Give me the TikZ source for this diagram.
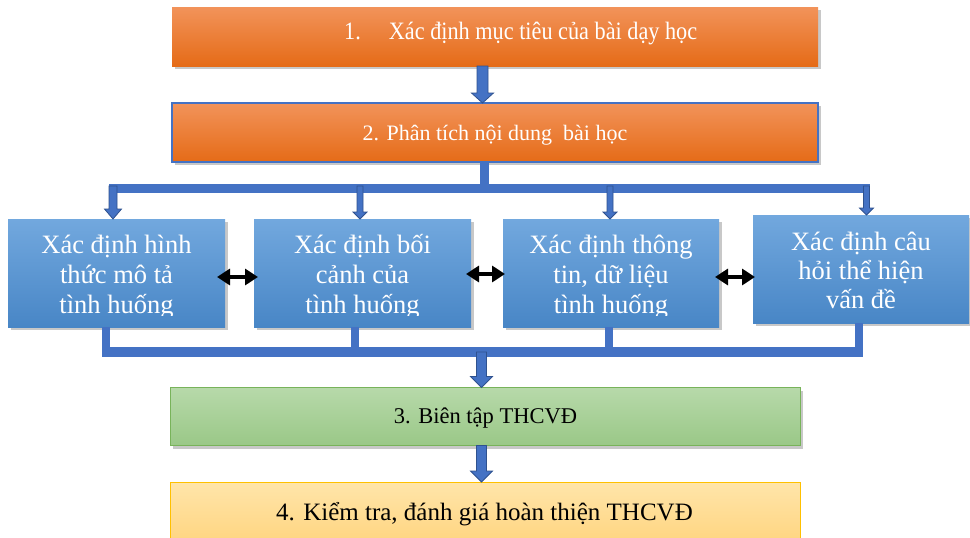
\documentclass[tikz,border=0pt]{standalone}
\usepackage{fontspec}
\setmainfont{Liberation Serif}
\newfontfamily\condfont[FakeStretch=0.89]{Liberation Serif}
\usetikzlibrary{arrows.meta,shadows,calc}
\definecolor{orT}{HTML}{F2935A}
\definecolor{orB}{HTML}{E56B17}
\definecolor{blT}{HTML}{72A8DE}
\definecolor{blB}{HTML}{4886C6}
\definecolor{grT}{HTML}{B7D9AA}
\definecolor{grB}{HTML}{9AC887}
\definecolor{grE}{HTML}{78B35A}
\definecolor{ylT}{HTML}{FFE5AA}
\definecolor{ylB}{HTML}{FFD47E}
\definecolor{ylE}{HTML}{FFC000}
\definecolor{conn}{HTML}{4472C4}
\definecolor{connD}{HTML}{2F528F}
\newcommand\blockarr[6]{%
  \path[#6] let \p1=#1, \p2=#2 in
    (\x1-#3,\y1) -- (\x1-#3,\y2+#5) -- (\x1-#4,\y2+#5) -- (\x1,\y2)
    -- (\x1+#4,\y2+#5) -- (\x1+#3,\y2+#5) -- (\x1+#3,\y1) -- cycle;}
\begin{document}
\begin{tikzpicture}[x=1pt,y=-1pt,
  shd/.style={drop shadow={shadow xshift=3pt,shadow yshift=-3pt,opacity=0.3,fill=black!70}},
  boxbase/.style={rectangle,inner sep=0pt,outer sep=0pt},
  obox/.style={boxbase,top color=orT,bottom color=orB,shd,minimum width=646pt,minimum height=59pt},
  bbox/.style={boxbase,top color=blT,bottom color=blB,shd,minimum width=217pt,minimum height=108pt},
  gbox/.style={boxbase,top color=grT,bottom color=grB,draw=grE,line width=1pt,shd,minimum width=630pt,minimum height=58pt},
  ybox/.style={boxbase,top color=ylT,bottom color=ylB,draw=ylE,line width=1pt,minimum width=630pt,minimum height=64pt},
  bar/.style={draw=conn,line width=9pt},
  stub/.style={draw=conn,line width=8pt},
  barr/.style={fill=conn,draw=connD,line width=0.8pt},
  dbl/.style={draw=black,line width=4.5pt,{Triangle[width=16pt,length=13pt]}-{Triangle[width=16pt,length=13pt]}},
  wtxt/.style={text=white,inner sep=0pt,anchor=base},
  ktxt/.style={text=black,inner sep=0pt,anchor=base},
]
\useasboundingbox[fill=white] (0,0) rectangle (970,538);

% boxes
\node[obox] (b1) at (495,36.5) {};
\node[obox,draw=conn,line width=1.2pt] (b2) at (495,132.5) {};
\node[bbox] (A) at (116.5,273) {};
\node[bbox] (B) at (362.5,273) {};
\node[bbox,minimum width=216pt] (C) at (611,273) {};
\node[bbox,minimum width=216pt] (D) at (861,269) {};
\node[gbox] (b3) at (485,416.5) {};
\node[ybox] (b4) at (485,514) {};

% texts
\node[wtxt,anchor=base west] (t1) at (344,39.3) {\condfont\fontsize{25}{28}\selectfont 1.\hspace{28pt}Xác định mục tiêu của bài dạy học};
\node[wtxt] (t2) at (495,140) {\fontsize{22}{26}\selectfont 2. Phân tích nội dung~~bài học};
\node[ktxt] (t3) at (485.5,423) {\fontsize{22.5}{26}\selectfont 3. Biên tập THCVĐ};
\node[ktxt] (t4) at (484.5,520) {\fontsize{25}{28}\selectfont 4. Kiểm tra, đánh giá hoàn thiện THCVĐ};
\begin{scope}
\clip (0,0) rectangle (970,315);
\node[wtxt] (tA) at (116.5,253) {\fontsize{26.5}{30}\selectfont\begin{tabular}[t]{@{}c@{}}Xác định hình\\thức mô tả\\tình huống\end{tabular}};
\node[wtxt] (tB) at (362.5,253) {\fontsize{26.5}{30}\selectfont\begin{tabular}[t]{@{}c@{}}Xác định bối\\cảnh của\\tình huống\end{tabular}};
\node[wtxt] (tC) at (611,253) {\fontsize{26.5}{30}\selectfont\begin{tabular}[t]{@{}c@{}}Xác định thông\\tin, dữ liệu\\tình huống\end{tabular}};
\node[wtxt] (tD) at (861,250) {\fontsize{26.5}{29}\selectfont\begin{tabular}[t]{@{}c@{}}Xác định câu\\hỏi thể hiện\\vấn đề\end{tabular}};
\end{scope}

% connectors top
\blockarr{([xshift=-12.5pt]b1.south)}{(b2.north)}{5.5pt}{11pt}{10pt}{barr}
\draw[bar] ([xshift=-11pt]b2.south) -- ++(0,31) coordinate (tbM);
\coordinate (tbL) at (109,188.5);
\coordinate (tbR) at (870,188.5);
\draw[bar] (tbL) -- (tbR);
\blockarr{(113,186)}{(A.north)}{4pt}{8.5pt}{10pt}{barr}
\blockarr{(360,186)}{(B.north)}{3pt}{7pt}{7pt}{barr}
\blockarr{(610,186)}{(C.north)}{3pt}{7pt}{7pt}{barr}
\blockarr{(866.5,186)}{(D.north)}{3pt}{7pt}{7pt}{barr}

% double arrows
\draw[dbl] ([shift={(-8,4)}]A.east) -- ([shift={(4,4)}]B.west);
\draw[dbl] ([shift={(-5,1)}]B.east) -- ([shift={(2,1)}]C.west);
\draw[dbl] ([shift={(-4,4)}]C.east) -- ([shift={(2,8)}]D.west);

% connectors bottom
\coordinate (bbL) at (102,352);
\coordinate (bbR) at (863,352);
\draw[stub] ([xshift=-10.5pt]A.south) -- ++(0,30);
\draw[stub] ([xshift=-8pt]B.south) -- ++(0,30);
\draw[stub] ([xshift=-2pt]C.south) -- ++(0,30);
\draw[stub] ([xshift=-2pt]D.south) -- ++(0,34);
\draw[bar,line width=10pt] (bbL) -- (bbR);
\blockarr{(481.5,352)}{(b3.north)}{5pt}{11pt}{11pt}{barr}
\blockarr{([xshift=-3.5pt]b3.south)}{(b4.north)}{5pt}{11pt}{11pt}{barr}
\end{tikzpicture}
\end{document}
